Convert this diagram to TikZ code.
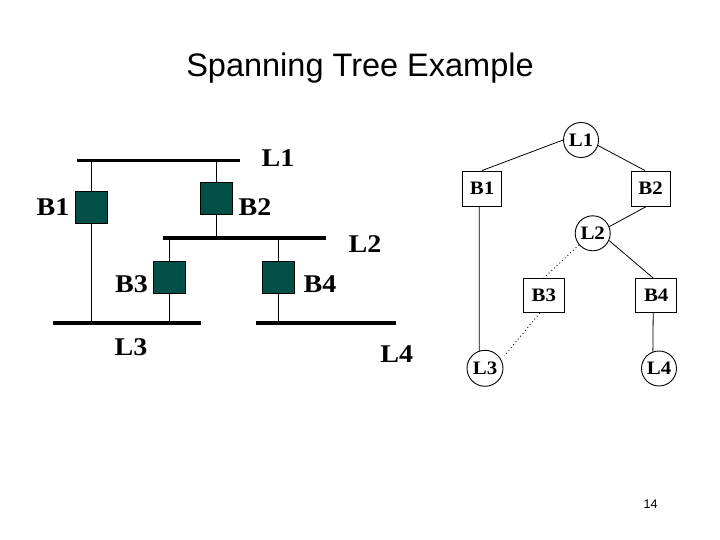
\documentclass[tikz,border=0pt]{standalone}
\usepackage{fontspec}
\setmainfont{Liberation Serif}
\newfontfamily\titlefont{Liberation Sans}
\newfontfamily\labfont[FakeStretch=1.1]{Liberation Serif}
\newfontfamily\treefont[FakeStretch=1.1]{Liberation Serif}
\definecolor{bridgeteal}{RGB}{0,80,72}
\tikzset{
  bus/.style={line width=3.6pt},
  link/.style={line width=1.1pt},
  bridge/.style={draw=black, line width=0.8pt, fill=bridgeteal, minimum width=32pt, minimum height=32pt, inner sep=0pt},
  buslabel/.style={anchor=base, inner sep=0pt, font=\labfont\bfseries\fontsize{25.5}{25.5}\selectfont},
  lan/.style={draw, circle, line width=0.9pt, minimum size=35pt, inner sep=0pt, font=\treefont\bfseries\fontsize{19}{19}\selectfont},
  br/.style={draw, rectangle, line width=0.9pt, minimum width=39pt, minimum height=35pt, inner sep=0pt, font=\treefont\bfseries\fontsize{19}{19}\selectfont},
  edge/.style={line width=0.8pt},
  dotedge/.style={line width=0.9pt, dash pattern=on 0.9pt off 2.8pt},
}
\begin{document}
\begin{tikzpicture}[x=1pt,y=-1pt]
\useasboundingbox (0,0) rectangle (720,540);
% title and page number
\node[anchor=base, inner sep=0pt, font=\titlefont\fontsize{32.5}{32.5}\selectfont] (title) at (360,76.7) {Spanning Tree Example};
\node[anchor=base, inner sep=0pt, font=\titlefont\fontsize{12.5}{12.5}\selectfont] (page) at (650.5,508) {14};

% ---------- left: physical LAN ----------
\coordinate (L1a) at (76.7,160.7);  \coordinate (L1b) at (240,160.7);
\coordinate (L2a) at (162.7,237.7); \coordinate (L2b) at (325.7,237.7);
\coordinate (L3a) at (52.7,323);    \coordinate (L3b) at (200.7,323);
\coordinate (L4a) at (255.7,323);   \coordinate (L4b) at (396,323);

\node[bridge] (pB1) at (91.5,207.5) {};
\node[bridge] (pB2) at (216.5,198.5) {};
\node[bridge] (pB3) at (169.5,277) {};
\node[bridge] (pB4) at (278.8,277) {};

\draw[link] (pB1) -- (pB1 |- L1a);
\draw[link] (pB1) -- (pB1 |- L3a);
\draw[link] (pB2) -- (pB2 |- L1a);
\draw[link] (pB2) -- (pB2 |- L2a);
\draw[link] (pB3) -- (pB3 |- L2a);
\draw[link] (pB3) -- (pB3 |- L3a);
\draw[link] (pB4) -- (pB4 |- L2a);
\draw[link] (pB4) -- (pB4 |- L4a);

\draw[bus] (L1a) -- (L1b);
\draw[bus] (L2a) -- (L2b);
\draw[bus] (L3a) -- (L3b);
\draw[bus] (L4a) -- (L4b);

\node[buslabel] (tL1) at (278,167) {L1};
\node[buslabel] (tB1) at (53,215) {B1};
\node[buslabel] (tB2) at (255,215) {B2};
\node[buslabel] (tL2) at (365,252.7) {L2};
\node[buslabel] (tB3) at (131.5,292.3) {B3};
\node[buslabel] (tB4) at (320,292.3) {B4};
\node[buslabel] (tL3) at (131,355) {L3};
\node[buslabel] (tL4) at (396.7,362.7) {L4};

% ---------- right: spanning tree ----------
\node[lan] (L1) at (581,140) {L1};
\node[br]  (B1) at (482,188.5) {B1};
\node[br]  (B2) at (650.5,188.5) {B2};
\node[lan] (L2) at (592.7,233.3) {L2};
\node[br, minimum width=41pt, minimum height=34pt] (B3) at (543.8,295.5) {B3};
\node[br, minimum width=41pt, minimum height=34pt] (B4) at (656.2,295.5) {B4};
\node[lan, minimum size=36pt] (L3) at (485,368.3) {L3};
\node[lan, minimum size=35pt] (L4) at (659,368.5) {L4};

\draw[edge] (L1.180) -- (B1.north);
\draw[edge] (L1.-18) -- ([xshift=-5.5pt]B2.north);
\draw[edge] ([xshift=-4pt]B2.south) -- (L2.22);
\draw[dotedge] (L2.220) -- (B3.north);
\draw[edge] (L2.-24) -- ([xshift=-3pt]B4.north);
\draw[edge] ([xshift=-2.7pt]B1.south) -- (L3.108);
\draw[dotedge, shorten >=5pt] ([xshift=-4pt]B3.south) -- (L3.28);
\draw[edge] ([xshift=-3pt]B4.south) -- (L4.110);
\end{tikzpicture}
\end{document}
